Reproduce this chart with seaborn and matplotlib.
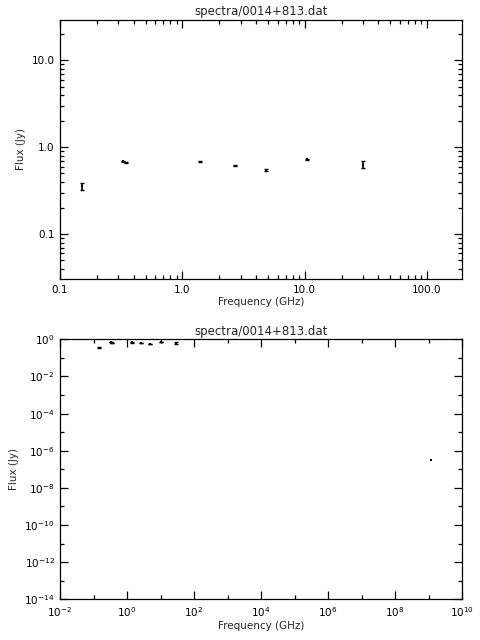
import numpy as np
import pandas as pd
import matplotlib
matplotlib.use("Agg")
import matplotlib.pyplot as plt
import matplotlib.ticker as mticker
import seaborn as sns

title = "spectra/0014+813.dat"
freq = [0.15, 0.327, 0.346, 1.4, 2.7, 4.85, 10.5, 30.0, 1.2e9]
flux = [0.356, 0.69, 0.667, 0.68, 0.61, 0.55, 0.73, 0.63, 3.2e-7]
err = [0.03, 0.006, 0.006, 0.01, 0.008, 0.01, 0.008, 0.06, 0.0]

top_xticks = [0.1, 1.0, 10.0, 100.0]
top_yticks = [0.1, 1.0, 10.0]
bot_xticks = [1e-2, 1e0, 1e2, 1e4, 1e6, 1e8, 1e10]
bot_yticks = [1e0, 1e-2, 1e-4, 1e-6, 1e-8, 1e-10, 1e-12, 1e-14]

df = pd.DataFrame({"freq": freq, "flux": flux, "err": err})
df_err = df[df["err"] > 0]

sns.set_style("ticks")
plt.rcParams["font.family"] = ["DejaVu Sans"]
plt.rcParams["font.size"] = 7.5
plt.rcParams["axes.linewidth"] = 0.9

fig = plt.figure(figsize=(4.8, 6.4), dpi=100)
ax1 = fig.add_axes([0.125, 0.564, 0.8375, 0.4055])
ax2 = fig.add_axes([0.125, 0.0636, 0.8375, 0.4062])


def draw(ax):
    ax.set_xscale("log")
    ax.set_yscale("log")
    ax.errorbar(df_err["freq"], df_err["flux"], yerr=df_err["err"], fmt="none",
                ecolor="black", elinewidth=1.2, capsize=1.2, capthick=1.0)
    sns.scatterplot(data=df, x="freq", y="flux", ax=ax, color="black",
                    marker="s", s=3, linewidth=0, legend=False)
    ax.set_title(title, fontsize=8.5, pad=3)
    ax.set_xlabel("Frequency (GHz)", fontsize=7.5, labelpad=2)
    ax.set_ylabel("Flux (Jy)", fontsize=7.5, labelpad=4)
    ax.tick_params(which="both", direction="in", top=True, right=True,
                   colors="black", labelsize=7.5, width=0.9)
    ax.tick_params(which="major", length=6, pad=4)
    ax.tick_params(which="minor", length=3)
    for s in ax.spines.values():
        s.set_color("black")


draw(ax1)
ax1.set_xlim(0.1, 193)
ax1.set_ylim(0.0304, 29.6)
ax1.set_xticks(top_xticks)
ax1.set_xticklabels(["%.1f" % v for v in top_xticks])
ax1.set_yticks(top_yticks)
ax1.set_yticklabels(["%.1f" % v for v in top_yticks])
ax1.xaxis.set_minor_locator(mticker.LogLocator(base=10, subs=np.arange(2, 10), numticks=20))
ax1.yaxis.set_minor_locator(mticker.LogLocator(base=10, subs=np.arange(2, 10), numticks=20))
ax1.xaxis.set_minor_formatter(mticker.NullFormatter())
ax1.yaxis.set_minor_formatter(mticker.NullFormatter())

draw(ax2)
ax2.set_xlim(1e-2, 1e10)
ax2.set_ylim(1e-14, 1e0)
ax2.set_xticks(bot_xticks)
ax2.set_xticklabels([r"$10^{%d}$" % int(np.log10(v)) for v in bot_xticks])
ax2.set_yticks(bot_yticks)
ax2.set_yticklabels([r"$10^{%d}$" % int(round(np.log10(v))) for v in bot_yticks])
ax2.xaxis.set_minor_locator(mticker.FixedLocator([10.0 ** k for k in range(-1, 10, 2)]))
ax2.yaxis.set_minor_locator(mticker.FixedLocator([10.0 ** k for k in range(-13, 0, 2)]))
ax2.xaxis.set_minor_formatter(mticker.NullFormatter())
ax2.yaxis.set_minor_formatter(mticker.NullFormatter())

fig.savefig("out.png", dpi=100, facecolor="white")
